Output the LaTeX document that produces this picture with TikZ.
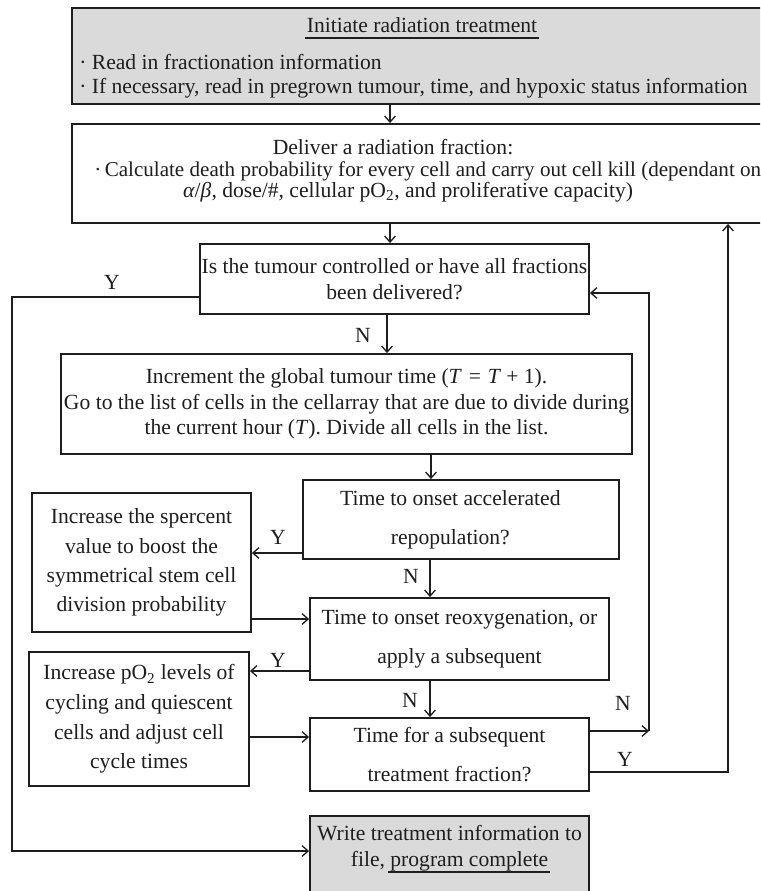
\documentclass[tikz,border=0pt]{standalone}
\usepackage{fontspec}
\setmainfont{Liberation Serif}
\usetikzlibrary{arrows.meta,calc}
\definecolor{boxgray}{RGB}{218,218,218}
\definecolor{ink}{RGB}{30,30,30}
\newcommand\fs[1]{\fontsize{16.2pt}{#1pt}\selectfont}
\newcommand\myul[1]{\setbox0\hbox{#1}\rlap{\kern-1.5pt\rule[-5pt]{\dimexpr\wd0+3pt\relax}{1.1pt}}\box0}
\newcommand\lsh{\hspace*{16pt}}
\tikzset{
  bx/.style n args={2}{draw=ink, line width=1.4pt, minimum width=#1*0.75pt,
     minimum height=#2*0.75pt, inner sep=0pt, align=center},
  txt/.style={inner sep=0pt, text=ink, font=\fs{19.5}},
  lbl/.style={inner sep=0pt, text=ink, font=\fs{19.5}},
  arr/.style={draw=ink, line width=1pt, -{Straight Barb[length=4.5pt,width=8pt,line width=1pt]}},
  thk/.style={draw=ink, line width=1.4pt, -{Straight Barb[length=4.5pt,width=8pt,line width=1pt]}}
}
\begin{document}
\begin{tikzpicture}[x=0.75pt,y=-0.75pt]
\useasboundingbox (0,0) rectangle (760,891);
\clip (0,0) rectangle (760,891);
\fill[white] (0,0) rectangle (760,891);

% boxes (the two upper ones run past the right edge, as in the reference)
\node[bx={758}{96}, fill=boxgray] (top) at (451,56) {};
\node[txt] (ttl) at (422,28) {\myul{Initiate radiation treatment}};
\node[txt, anchor=base west] (t1a) at (79,69.5) {· Read in fractionation information};
\node[txt, anchor=base west] (t1b) at (79,93.5) {· If necessary, read in pregrown tumour, time, and hypoxic status information};

\node[bx={758}{99}] (b2) at (451,173.5) {};
\node[txt] (t2a) at (393,147) {Deliver a radiation fraction:};
\node[txt, anchor=base west, font=\fontsize{15.8pt}{19pt}\selectfont] (t2b) at (94,176.5) {·\,Calculate death probability for every cell and carry out cell kill (dependant on};
\node[txt] (t2c) at (408,192) {\textit{α}/\textit{β}, dose/\#, cellular pO\textsubscript{2}, and proliferative capacity)};

\node[bx={389}{70}, font=\fs{19.5}, text=ink] (b3) at (394.5,279)
  {Is the tumour controlled or have all fractions\\been delivered?};
\node[bx={571}{100}, font=\fs{19}, text=ink] (b4) at (346.5,404)
  {Increment the global tumour time (\textit{T}\hspace{0.32em}=\hspace{0.32em}\textit{T}\hspace{0.24em}+\hspace{0.24em}1).\\Go to the list of cells in the cellarray that are due to divide during\\the current hour (\textit{T}). Divide all cells in the list.};
\node[bx={316}{79}, font=\fs{29}, text=ink] (b5) at (461,519.5)
  {Time to onset accelerated\lsh\\repopulation?\lsh};
\node[bx={219}{139}, font=\fs{22}, text=ink] (bA) at (141.5,562.5)
  {Increase the spercent\\value to boost the\\symmetrical stem cell\\division probability};
\node[bx={299}{82}, font=\fs{29}, text=ink] (b6) at (459.5,639)
  {Time to onset reoxygenation, or\\apply a subsequent};
\node[bx={220}{134}, font=\fs{22.3}, text=ink] (bB) at (139,719)
  {Increase pO\textsubscript{2} levels of\\cycling and quiescent\\cells and adjust cell\\cycle times};
\node[bx={279}{73}, font=\fs{29}, text=ink] (b7) at (449.5,754.5)
  {Time for a subsequent\\treatment fraction?};
\node[bx={279}{84}, fill=boxgray] (fin) at (449.5,858) {};
\node[txt, align=center] (ft) at (449.5,849) {Write treatment information to\\file, \myul{program complete}};

% coordinates for connector routing
\coordinate (xa) at (390,0);
\coordinate (xb) at (387,0);
\coordinate (xc) at (431,0);
\coordinate (xd) at (430,0);
\coordinate (xr1) at (649,0);
\coordinate (xr2) at (728,0);
\coordinate (xl) at (12,0);
\coordinate (yY) at (0,297);
\coordinate (yF) at (0,851);
\coordinate (yB3) at (0,293);
\coordinate (yN7) at (0,731);
\coordinate (yY7) at (0,772);
\coordinate (y5A) at (0,553);
\coordinate (yA6) at (0,619);
\coordinate (y6B) at (0,671);
\coordinate (yB7) at (0,737);

% connectors
\draw[arr] (top.south -| xa) -- (b2.north -| xa);
\draw[arr] (b2.south -| xa) -- (b3.north -| xa);
\draw[arr] (b3.south -| xb) -- (b4.north -| xb);
\draw[arr] (b4.south -| xc) -- (b5.north -| xc);
\draw[arr] (b5.west |- y5A) -- (bA.east |- y5A);
\draw[arr] (b5.south -| xd) -- (b6.north -| xd);
\draw[arr] (bA.east |- yA6) -- (b6.west |- yA6);
\draw[arr] (b6.west |- y6B) -- (bB.east |- y6B);
\draw[arr] (b6.south -| xd) -- (b7.north -| xd);
\draw[arr] (bB.east |- yB7) -- (b7.west |- yB7);
\draw[arr] (b7.east |- yN7) -- (xr1 |- yN7);
\draw[arr] (xr1 |- yN7) -- (xr1 |- yB3) -- (b3.east |- yB3);
\draw[arr] (b7.east |- yY7) -- (xr2 |- yY7) -- (b2.south -| xr2);
\draw[thk] (b3.west |- yY) -- (xl |- yY) -- (xl |- yF) -- (fin.west |- yF);

% labels
\node[lbl] (l1) at (112,282) {Y};
\node[lbl] (l2) at (363,335) {N};
\node[lbl] (l3) at (278,537) {Y};
\node[lbl] (l4) at (411,576) {N};
\node[lbl] (l5) at (278,660) {Y};
\node[lbl] (l6) at (410,700) {N};
\node[lbl] (l7) at (623,703) {N};
\node[lbl] (l8) at (625,759) {Y};
\end{tikzpicture}
\end{document}
